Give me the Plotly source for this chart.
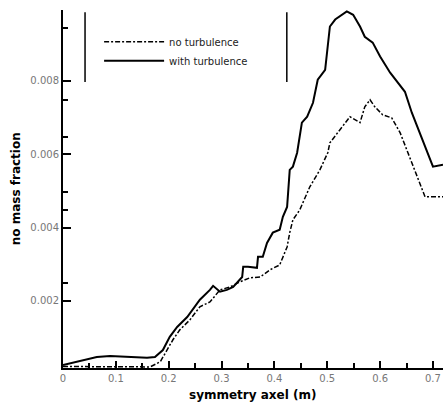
import plotly.graph_objects as go

# with turbulence (solid)
x_turb = [0.000, 0.0265, 0.064, 0.089, 0.127, 0.159, 0.174, 0.189, 0.202, 0.216, 0.235, 0.259,
          0.278, 0.284, 0.297, 0.310, 0.322, 0.339, 0.341, 0.350, 0.367, 0.369, 0.378, 0.386,
          0.397, 0.410, 0.416, 0.424, 0.429, 0.435, 0.443, 0.452, 0.462, 0.473, 0.482, 0.496,
          0.505, 0.515, 0.537, 0.549, 0.562, 0.571, 0.586, 0.600, 0.619, 0.632, 0.647, 0.660,
          0.675, 0.691, 0.700, 0.719]
y_turb = [0.00025, 0.00034, 0.00047, 0.00050, 0.00047, 0.00045, 0.00047, 0.00066, 0.00102,
          0.00129, 0.00156, 0.00203, 0.00230, 0.00241, 0.00225, 0.00230, 0.00238, 0.00265,
          0.00293, 0.00293, 0.00290, 0.00320, 0.00320, 0.00358, 0.00386, 0.00394, 0.00429,
          0.00456, 0.00557, 0.00566, 0.00604, 0.00686, 0.00702, 0.00740, 0.00803, 0.00830,
          0.00948, 0.00967, 0.00989, 0.00980, 0.00948, 0.00920, 0.00904, 0.00866, 0.00822,
          0.00798, 0.00770, 0.00713, 0.00658, 0.00604, 0.00566, 0.00571]

# no turbulence (dashed)
x_noturb = [0.000, 0.060, 0.120, 0.165, 0.184, 0.197, 0.208, 0.221, 0.240, 0.259, 0.278, 0.297,
            0.316, 0.335, 0.354, 0.373, 0.392, 0.410, 0.424, 0.429, 0.435, 0.448, 0.467, 0.486,
            0.501, 0.505, 0.524, 0.543, 0.562, 0.571, 0.581, 0.590, 0.605, 0.622, 0.638, 0.653,
            0.670, 0.685, 0.698, 0.719]
y_noturb = [0.00021, 0.00020, 0.00021, 0.00020, 0.00034, 0.00066, 0.00094, 0.00121, 0.00148,
            0.00184, 0.00197, 0.00230, 0.00238, 0.00252, 0.00263, 0.00265, 0.00285, 0.00298,
            0.00347, 0.00386, 0.00421, 0.00448, 0.00511, 0.00557, 0.00604, 0.00631, 0.00667,
            0.00702, 0.00686, 0.00729, 0.00748, 0.00729, 0.00707, 0.00699, 0.00658, 0.00604,
            0.00538, 0.00484, 0.00484, 0.00484]

x_ticks = [0, 0.1, 0.2, 0.3, 0.4, 0.5, 0.6, 0.7]
x_ticklabels = ["0", "0.1", "0.2", "0.3", "0.4", "0.5", "0.6", "0.7"]
y_ticks = [0.002, 0.004, 0.006, 0.008]
y_ticklabels = ["0.002", "0.004", "0.006", "0.008"]

FONT = "DejaVu Sans, Verdana, sans-serif"

fig = go.Figure()
fig.add_trace(go.Scatter(x=x_noturb, y=y_noturb, mode="lines", name="no turbulence",
                         line=dict(color="black", width=1.5, dash="5px,2px,2px,2px")))
fig.add_trace(go.Scatter(x=x_turb, y=y_turb, mode="lines", name="with turbulence",
                         line=dict(color="black", width=2)))

axis_font = dict(family=FONT, size=10, color="#777")
fig.update_layout(
    width=443, height=409,
    margin=dict(l=63, r=0, t=10, b=41),
    paper_bgcolor="white", plot_bgcolor="white",
    font=dict(family=FONT, color="black"),
    legend=dict(x=0.095, y=0.952, xanchor="left", yanchor="top", bgcolor="rgba(0,0,0,0)",
                borderwidth=0, itemwidth=60, font=dict(family=FONT, size=10, color="#222"),
                tracegroupgap=0),
    xaxis=dict(range=[0, 0.719], tickvals=x_ticks, ticktext=x_ticklabels, ticks="inside",
               ticklen=7, tickwidth=1.5, tickcolor="black", showgrid=False, zeroline=False,
               showline=True, linecolor="black", linewidth=2, tickfont=axis_font,
               minor=dict(dtick=0.05, tick0=0.05, ticks="inside", ticklen=5, tickwidth=1.5,
                          tickcolor="black", showgrid=False)),
    yaxis=dict(range=[0.00017, 0.00993], tickvals=y_ticks, ticktext=y_ticklabels,
               ticks="inside", ticklen=8, tickwidth=1.5, tickcolor="black", showgrid=False,
               zeroline=False, showline=True, linecolor="black", linewidth=2,
               tickfont=axis_font,
               minor=dict(tickvals=[0.00945, 0.00748, 0.00647, 0.00497, 0.00448, 0.00249],
                          ticks="inside", ticklen=5, tickwidth=1.5, tickcolor="black",
                          showgrid=False)),
    showlegend=True,
)

# legend frame side bars
for xp in [0.058, 0.589]:
    fig.add_shape(type="line", xref="paper", yref="paper", x0=xp, x1=xp, y0=0.799, y1=0.994,
                  line=dict(color="black", width=1.5))

fig.add_annotation(text="<b>symmetry axel (m)</b>", xref="paper", yref="paper", x=0.5,
                   y=-0.075, xanchor="center", yanchor="middle", showarrow=False,
                   font=dict(family=FONT, size=12, color="black"))
fig.add_annotation(text="<b>no mass fraction</b>", xref="paper", yref="paper", x=-0.123,
                   y=0.5, xanchor="center", yanchor="middle", showarrow=False, textangle=-90,
                   font=dict(family=FONT, size=12, color="black"))

fig.write_html("out.html", config={"displayModeBar": False},
               post_script="document.body.style.margin='0px';")
